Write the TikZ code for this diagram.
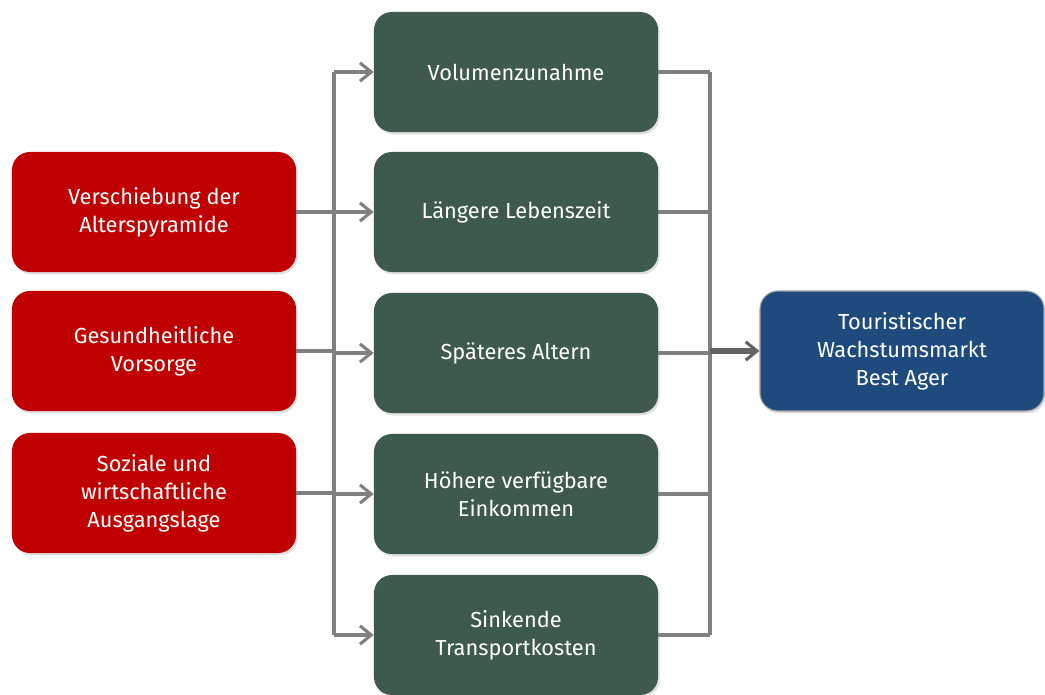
\documentclass[tikz,border=0pt]{standalone}
\usepackage{fontspec}
\setmainfont{Fira Sans}
\usepackage{tikz}
\usetikzlibrary{arrows.meta,positioning,calc,shadows}

\definecolor{ursache}{HTML}{C00000}
\definecolor{wirkung}{HTML}{3D5A4C}
\definecolor{markt}{HTML}{1F4A7E}
\definecolor{linie}{HTML}{808080}
\definecolor{linieDunkel}{HTML}{646464}

\begin{document}
\begin{tikzpicture}[x=0.025cm, y=-0.025cm,
    every node/.style={font=\fontsize{15.5}{20}\selectfont, text=white, align=center},
    box/.style={rounded corners=0.45cm, minimum width=7.1cm, minimum height=3.0cm,
        drop shadow={opacity=0.25, shadow xshift=0.04cm, shadow yshift=-0.06cm}},
    link/.style={draw=linie, line width=2.7pt},
    arr/.style={link, -{Straight Barb[length=8pt, width=13pt, line width=2.2pt]}}]
        \useasboundingbox (0,0) rectangle (1045,695);

        % Nodes
        \node[box, fill=ursache] (R1) at (154,212) {Verschiebung der\\Alterspyramide};
        \node[box, fill=ursache] (R2) at (154,351) {Gesundheitliche\\Vorsorge};
        \node[box, fill=ursache] (R3) at (154,493) {Soziale und\\wirtschaftliche\\Ausgangslage};

        \node[box, fill=wirkung] (G1) at (516,72) {Volumenzunahme};
        \node[box, fill=wirkung] (G2) at (516,212) {Längere Lebenszeit};
        \node[box, fill=wirkung] (G3) at (516,353) {Späteres Altern};
        \node[box, fill=wirkung] (G4) at (516,494) {Höhere verfügbare\\Einkommen};
        \node[box, fill=wirkung] (G5) at (516,635) {Sinkende\\Transportkosten};

        \node[box, fill=markt, draw=linie!70, line width=0.8pt] (M) at (902,351)
            {Touristischer\\Wachstumsmarkt\\Best Ager};

        \coordinate (busL) at (334,0);
        \coordinate (busR) at (710,0);

        % Links left
        \draw[link] (R1.east) -- (busL |- R1.east);
        \draw[link] (R2.east) -- (busL |- R2.east);
        \draw[link] (R3.east) -- (busL |- R3.east);
        \draw[link] (busL |- G1) -- (busL |- G5);
        \draw[arr] (busL |- G1) -- (G1);
        \draw[arr] (busL |- G2) -- (G2);
        \draw[arr] (busL |- G3) -- (G3);
        \draw[arr] (busL |- G4) -- (G4);
        \draw[arr] (busL |- G5) -- (G5);

        % Links right
        \draw[link] (G1) -- (busR |- G1);
        \draw[link] (G2) -- (busR |- G2);
        \draw[link] (G3) -- (busR |- G3);
        \draw[link] (G4) -- (busR |- G4);
        \draw[link] (G5) -- (busR |- G5);
        \draw[link] (busR |- G1) -- (busR |- G5);
        \draw[arr, draw=linieDunkel, line width=3.6pt] (busR |- M) -- (M);
    \end{tikzpicture}
\end{document}
